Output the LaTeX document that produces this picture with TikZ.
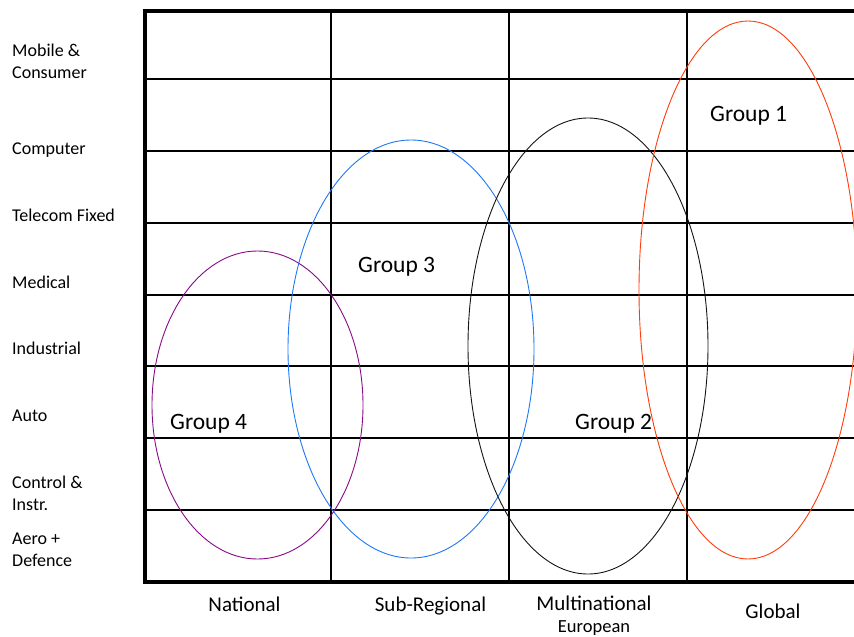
\documentclass[tikz,border=0pt]{standalone}
\usepackage{fontspec}
\setmainfont{Carlito}

\definecolor{grpone}{RGB}{255,60,10}
\definecolor{grptwo}{RGB}{20,20,20}
\definecolor{grpthree}{RGB}{30,120,245}
\definecolor{grpfour}{RGB}{135,10,135}

\tikzset{
    rowlabel/.style={anchor=base west,inner sep=0pt,align=left,font=\fontsize{18}{22}\selectfont},
    collabel/.style={anchor=base,inner sep=0pt,align=center,font=\fontsize{21}{23}\selectfont},
    grouplabel/.style={anchor=base west,inner sep=0pt,font=\fontsize{23.5}{26}\selectfont},
    cell/.style={line width=2.6pt},
    frame/.style={line width=4.2pt}
}

\begin{document}
\begin{tikzpicture}[x=1pt,y=-1pt]
    \useasboundingbox (0,0) rectangle (854,637);
    \clip (0,0) rectangle (854,637);
    % rows
    \draw[cell] (145,79) -- (860,79);
    \draw[cell] (145,151) -- (860,151);
    \draw[cell] (145,223) -- (860,223);
    \draw[cell] (145,295) -- (860,295);
    \draw[cell] (145,366) -- (860,366);
    \draw[cell] (145,438) -- (860,438);
    \draw[cell] (145,510) -- (860,510);
    % columns
    \draw[cell] (331,11) -- (331,582);
    \draw[cell] (509,11) -- (509,582);
    \draw[cell] (687,11) -- (687,582);
    % outer frame
    \draw[frame] (860,11) -- (145,11) -- (145,582) -- (860,582);

    % groups
    \draw[grpfour,line width=0.9pt] (257.5,405) ellipse (105.5 and 154);
    \draw[grpthree,line width=0.9pt] (411,349) ellipse (123 and 209);
    \draw[grptwo,line width=0.9pt] (588,346) ellipse (120 and 228);
    \draw[grpone,line width=0.9pt] (748,290) ellipse (109 and 269);
    \node[grouplabel] (g1) at (710,121) {Group 1};
    \node[grouplabel] (g2) at (575,429) {Group 2};
    \node[grouplabel] (g3) at (358,272) {Group 3};
    \node[grouplabel] (g4) at (170,429) {Group 4};

    % markets (base = last line)
    \node[rowlabel] (mobile) at (12,78.3) {Mobile \&\\Consumer};
    \node[rowlabel] (computer) at (12,154) {Computer};
    \node[rowlabel] (telecom) at (12,221) {Telecom Fixed};
    \node[rowlabel] (medical) at (12,288) {Medical};
    \node[rowlabel] (industrial) at (12,354.5) {Industrial};
    \node[rowlabel] (auto) at (12,421) {Auto};
    \node[rowlabel] (control) at (12,510) {Control \&\\Instr.};
    \node[rowlabel] (aero) at (12,566) {Aero +\\Defence};

    % reach
    \node[collabel] (national) at (244.5,611) {National};
    \node[collabel] (subregional) at (430.5,611) {Sub-Regional};
    \node[collabel] (multinational) at (594,632.7) {Multinational\\[-1pt]{\fontsize{18.5}{20}\selectfont European}};
    \node[collabel] (global) at (773,618) {Global};
\end{tikzpicture}
\end{document}
